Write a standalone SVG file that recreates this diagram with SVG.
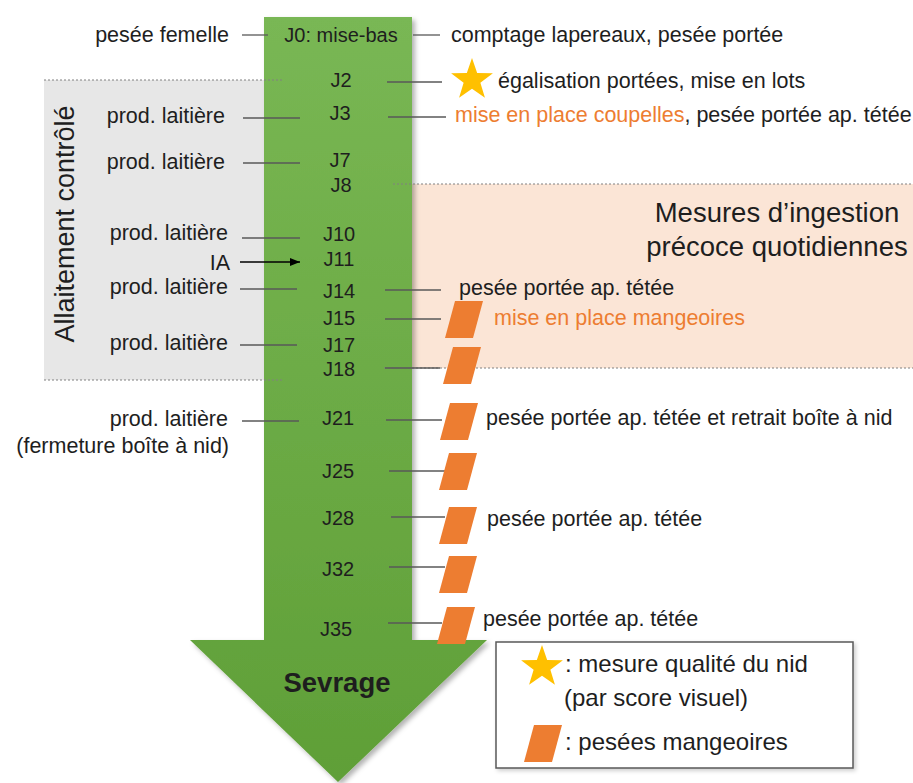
<svg xmlns="http://www.w3.org/2000/svg" width="913" height="783" viewBox="0 0 913 783">
<defs>
<linearGradient id="gArrow" x1="0" y1="0" x2="0" y2="1">
<stop offset="0" stop-color="#79b754"/>
<stop offset="1" stop-color="#5f9f37"/>
</linearGradient>
<filter id="shadow" x="-10%" y="-5%" width="130%" height="115%">
<feDropShadow dx="3" dy="3" stdDeviation="2.5" flood-color="#000" flood-opacity="0.3"/>
</filter>
<filter id="softshadow" x="-5%" y="-10%" width="115%" height="130%">
<feDropShadow dx="2" dy="2" stdDeviation="2" flood-color="#000" flood-opacity="0.2"/>
</filter>
<marker id="ah" viewBox="0 0 10 8" refX="10" refY="4" markerWidth="10" markerHeight="8" markerUnits="userSpaceOnUse" orient="auto">
<path d="M0,0 L10,4 L0,8 Z" fill="#000"/>
</marker>
<path id="star" d="M0,-22 L5.17,-7.12 L20.92,-6.8 L8.37,2.72 L12.93,17.8 L0,8.8 L-12.93,17.8 L-8.37,2.72 L-20.92,-6.8 L-5.17,-7.12 Z"/>
<path id="feeder" d="M10,0 H38 L28,37 H0 Z"/>
<style>
.t { font-family: "Liberation Sans", Arial, sans-serif; font-size: 21.5px; fill: #1e1e1e; }
.j { font-size: 20px; text-anchor: middle; }
.end { text-anchor: end; }
.or { fill: #ED7D31; }
.ln { stroke: #595959; stroke-width: 1.3; fill: none; }
.dot { stroke: #808080; stroke-width: 1; stroke-dasharray: 2 2; fill: none; }
.feed { fill: #ED7D31; }
.star { fill: #FFC000; }
.leg { font-size: 24px; }
</style>
</defs>

<rect width="913" height="783" fill="#ffffff"/>

<g id="zone-allaitement">
<rect x="44" y="80" width="230" height="300" fill="#e7e7e7"/>
<text class="t" transform="translate(74,224) rotate(-90)" text-anchor="middle" style="font-size:27px">Allaitement contrôlé</text>
</g>

<g id="zone-ingestion">
<rect x="412" y="184" width="501" height="184" fill="#fbe5d6"/>
<text class="t" x="777" y="222" text-anchor="middle" style="font-size:27.5px">Mesures d’ingestion</text>
<text class="t" x="777" y="256" text-anchor="middle" style="font-size:27.5px">précoce quotidiennes</text>
</g>

<g id="timeline-arrow">
<path d="M264,17 H412 V640 H487 L338,782 L190,640 H264 Z" fill="url(#gArrow)" filter="url(#shadow)"/>
<text class="t" x="337" y="692" text-anchor="middle" style="font-size:27.5px;font-weight:bold">Sevrage</text>
</g>

<g id="zone-borders">
<line class="dot" x1="44" y1="80" x2="284" y2="80"/>
<line class="dot" x1="44" y1="380" x2="284" y2="380"/>
<line class="dot" x1="393" y1="184" x2="913" y2="184"/>
<line class="dot" x1="384" y1="368" x2="913" y2="368"/>
</g>

<g id="connectors">
<line class="ln" x1="242" y1="35" x2="268" y2="35"/>
<line class="ln" x1="413" y1="35" x2="440" y2="35"/>
<line class="ln" x1="387" y1="82" x2="442" y2="82"/>
<line class="ln" x1="243" y1="118" x2="300" y2="118"/>
<line class="ln" x1="388" y1="117" x2="446" y2="117"/>
<line class="ln" x1="243" y1="163" x2="300" y2="163"/>
<line class="ln" x1="242" y1="238" x2="300" y2="238"/>
<line x1="240" y1="262" x2="300" y2="262" stroke="#000" stroke-width="1.3" marker-end="url(#ah)"/>
<line class="ln" x1="240" y1="289" x2="297" y2="289"/>
<line class="ln" x1="385" y1="290" x2="441" y2="290"/>
<line class="ln" x1="385" y1="319" x2="441" y2="319"/>
<line class="ln" x1="240" y1="345" x2="297" y2="345"/>
<line class="ln" x1="385" y1="368" x2="440" y2="368" stroke-width="1"/>
<line class="ln" x1="242" y1="421" x2="299" y2="421"/>
<line class="ln" x1="386" y1="420" x2="442" y2="420"/>
<line class="ln" x1="389" y1="471" x2="445" y2="471"/>
<line class="ln" x1="391" y1="517" x2="445" y2="517"/>
<line class="ln" x1="389" y1="567" x2="445" y2="567"/>
<line class="ln" x1="388" y1="623" x2="442" y2="623"/>
</g>

<g id="J0">
<text class="t end" x="229" y="42">pesée femelle</text>
<text class="t j" x="341" y="42">J0: mise-bas</text>
<text class="t" x="451" y="42">comptage lapereaux, pesée portée</text>
</g>

<g id="J2">
<text class="t j" x="341" y="87">J2</text>
<use href="#star" class="star" x="472" y="80"/>
<text class="t" x="498" y="88">égalisation portées, mise en lots</text>
</g>

<g id="J3">
<text class="t end" x="225" y="123">prod. laitière</text>
<text class="t j" x="340" y="120">J3</text>
<text class="t" x="455" y="122"><tspan class="or">mise en place coupelles</tspan>, pesée portée ap. tétée</text>
</g>

<g id="J7">
<text class="t end" x="225" y="169">prod. laitière</text>
<text class="t j" x="340" y="167">J7</text>
</g>

<g id="J8">
<text class="t j" x="341" y="192">J8</text>
</g>

<g id="J10">
<text class="t end" x="228" y="240">prod. laitière</text>
<text class="t j" x="339" y="241">J10</text>
</g>

<g id="J11">
<text class="t end" x="230" y="270">IA</text>
<text class="t j" x="339" y="266">J11</text>
</g>

<g id="J14">
<text class="t end" x="228" y="294">prod. laitière</text>
<text class="t j" x="339" y="298">J14</text>
<text class="t" x="459" y="295">pesée portée ap. tétée</text>
</g>

<g id="J15">
<text class="t j" x="339" y="325">J15</text>
<use href="#feeder" class="feed" x="445" y="301"/>
<text class="t or" x="494" y="325">mise en place mangeoires</text>
</g>

<g id="J17">
<text class="t end" x="228" y="350">prod. laitière</text>
<text class="t j" x="339" y="352">J17</text>
<use href="#feeder" class="feed" x="443" y="347"/>
</g>

<g id="J18">
<text class="t j" x="339" y="376">J18</text>
</g>

<g id="J21">
<text class="t end" x="228" y="426">prod. laitière</text>
<text class="t end" x="229" y="453">(fermeture boîte à nid)</text>
<text class="t j" x="338" y="425">J21</text>
<use href="#feeder" class="feed" x="440" y="403"/>
<text class="t" x="486" y="425">pesée portée ap. tétée et retrait boîte à nid</text>
</g>

<g id="J25">
<text class="t j" x="338" y="478">J25</text>
<use href="#feeder" class="feed" x="439" y="453"/>
</g>

<g id="J28">
<text class="t j" x="338" y="525">J28</text>
<use href="#feeder" class="feed" x="439" y="507"/>
<text class="t" x="487" y="526">pesée portée ap. tétée</text>
</g>

<g id="J32">
<text class="t j" x="338" y="576">J32</text>
<use href="#feeder" class="feed" x="439" y="556"/>
</g>

<g id="J35">
<text class="t j" x="336" y="636">J35</text>
<use href="#feeder" class="feed" x="437" y="607"/>
<text class="t" x="483" y="626">pesée portée ap. tétée</text>
</g>

<g id="legend">
<rect x="496" y="642" width="357" height="126" fill="#ffffff" stroke="#595959" stroke-width="1.5" filter="url(#softshadow)"/>
<use href="#star" class="star" x="542" y="667"/>
<text class="t leg" x="565" y="672">: mesure qualité du nid</text>
<text class="t leg" x="564" y="706">(par score visuel)</text>
<use href="#feeder" class="feed" x="524" y="725"/>
<text class="t leg" x="565" y="750">: pesées mangeoires</text>
</g>
</svg>
